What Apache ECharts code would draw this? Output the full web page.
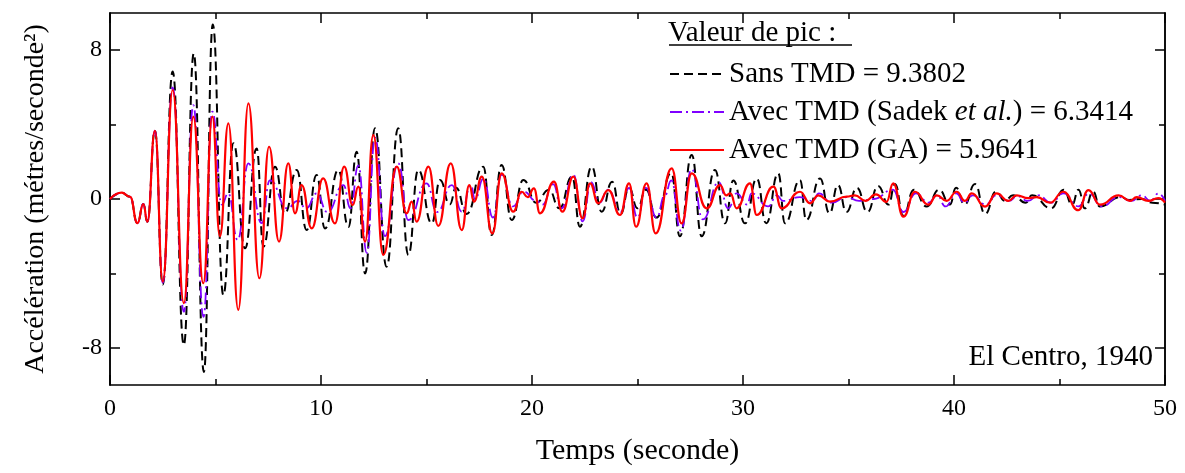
<!DOCTYPE html>
<html><head><meta charset="utf-8">
<script src="https://cdn.jsdelivr.net/npm/echarts@6/dist/echarts.min.js"></script>
<style>html,body{margin:0;padding:0;background:#fff}#c{width:1185px;height:473px}</style>
</head><body><div id="c"></div>
<script>
// Time (s) and acceleration (m/s²) at each peak / trough
const tSans = [0,0.55,0.95,1.3,1.58,1.77,2.13,2.5,2.97,3.5,3.97,4.45,4.87,5.37,5.85,6.4,6.95,7.27,7.82,8.29,8.85,9.32,9.79,10.19,10.82,11.3,11.69,12.09,12.56,13.11,13.66,14.14,14.61,15.25,15.64,16.1,16.4,16.9,17.69,18.09,18.56,19.04,19.59,20.2,20.8,21.3,21.9,22.27,22.83,23.3,23.8,24.2,24.6,25.0,25.4,25.9,26.6,27.01,27.57,28.04,28.67,29.15,29.54,30.1,30.65,31.1,31.67,31.99,32.7,33.0,33.65,34.1,34.5,34.9,35.4,35.9,36.4,36.9,37.2,37.6,38.1,38.7,39.3,39.8,40.1,40.5,41.0,41.47,42.0,42.4,42.8,43.4,43.7,44.6,45.2,45.6,45.9,46.2,46.6,46.9,47.9,48.3,48.9,49.4,50];
const vSans = [0,0.34,0.12,-1.3,-0.27,-1.22,3.67,-4.6,6.85,-7.85,7.83,-9.3,9.38,-5.16,3.0,-2.65,2.72,-2.56,1.74,-0.77,1.56,-1.67,1.29,-1.58,1.56,-1.5,2.54,-4.0,3.8,-3.64,3.8,-3.01,1.56,-1.31,1.02,-0.3,0.6,-0.8,1.74,-1.94,1.83,-1.13,1.02,-0.2,0.5,-0.5,1.2,-1.49,1.74,-0.68,0.93,-0.8,0.6,-0.5,0.5,-1.0,1.4,-2.0,2.37,-2.0,1.56,-1.31,1.0,-1.31,1.1,-1.3,1.38,-1.31,1.02,-1.13,1.1,-0.77,0.75,-0.7,0.6,-0.7,0.7,-0.3,0.8,-0.9,0.5,-0.4,0.5,-0.3,0.6,-0.3,0.8,-0.8,0.4,-0.1,0.2,-0.2,0.2,-0.5,0.5,-0.3,0.5,-0.5,0.4,-0.4,0.1,-0.05,0.0,-0.2,-0.3];

const tSadek = [0,0.55,0.95,1.3,1.58,1.77,2.13,2.5,2.97,3.5,3.95,4.43,4.85,5.3,5.6,6.05,6.56,7.19,7.58,8.4,8.9,9.3,9.8,10.3,11.06,11.4,11.77,12.17,12.56,13.03,13.66,14.14,15.0,15.5,16.2,16.67,17.1,17.3,17.7,18.15,18.56,19.1,19.6,20.2,20.5,21.0,21.4,21.96,22.4,22.8,23.2,23.6,24.2,24.6,25.0,25.4,25.9,26.3,26.6,27.05,27.57,28.1,28.85,29.3,29.7,30.2,30.4,31.2,31.6,31.9,32.7,33.3,33.6,34.2,34.9,35.5,36.2,37.1,37.6,38.2,38.8,39.2,39.6,40.1,40.5,40.9,41.5,42.0,42.6,43.0,43.5,44.0,44.6,45.2,45.9,46.4,47.0,47.8,48.4,48.9,49.3,49.7,50];
const vSadek = [0,0.34,0.12,-1.3,-0.27,-1.22,3.67,-4.5,6.0,-6.06,5.05,-6.34,4.7,-0.3,0.3,-2.2,1.92,-1.3,1.0,-0.5,-0.1,-0.5,0.3,-0.7,0.75,-0.5,1.8,-2.9,3.3,-2.0,1.92,-1.13,0.84,-0.7,0.75,-0.68,0.75,0.0,1.1,-1.0,1.3,-0.4,0.4,-0.1,-0.3,0.8,-0.5,1.3,-1.2,0.9,-0.2,0.5,-0.7,0.6,-1.0,0.6,-1.0,0.2,1.0,-1.7,1.6,-1.1,0.9,-0.5,0.3,-0.3,0.3,-0.4,0.2,-0.1,0.1,-0.1,0.3,-0.2,0.1,-0.1,0.0,0.5,-0.7,0.3,-0.2,0.2,-0.4,0.3,-0.2,0.2,-0.3,0.2,-0.1,0.15,-0.1,0.2,-0.2,0.3,-0.4,0.3,-0.4,0.1,-0.1,0.2,-0.1,0.3,-0.1];

const tGA = [0,0.55,0.95,1.3,1.58,1.77,2.13,2.5,2.97,3.5,3.95,4.42,4.85,5.21,5.61,6.08,6.56,7.08,7.54,8.01,8.45,8.77,9.08,9.56,10.1,10.66,11.1,11.5,11.77,12.09,12.48,12.95,13.59,14.06,14.3,14.53,15.09,15.56,16.15,16.67,17.03,17.25,17.62,18.12,18.56,19.11,19.51,19.8,20.09,20.38,21.04,21.44,21.96,22.4,22.75,23.14,23.62,24.17,24.6,24.93,25.43,25.86,26.62,27.09,27.57,28.28,28.91,29.2,29.4,29.7,30.33,30.65,31.44,31.83,32.7,33.18,33.57,34.12,34.91,35.3,35.8,36.3,36.8,37.12,37.6,38.15,38.78,39.18,39.65,40.13,40.52,40.84,41.47,42.02,42.57,42.97,43.52,43.92,44.55,45.18,45.89,46.37,46.92,47.8,48.34,48.66,49.21,49.68,50];
const vGA = [0,0.34,0.12,-1.3,-0.27,-1.22,3.67,-4.44,5.86,-5.6,4.43,-4.53,4.43,-2.0,4.07,-5.96,5.14,-4.26,2.81,-2.29,1.92,-0.77,0.75,-1.58,1.11,-1.31,1.74,-0.32,0.66,-2.29,3.44,-3.01,1.74,-0.77,-0.14,-1.22,1.74,-1.45,1.92,-1.67,0.75,-0.14,1.2,-1.85,1.38,-0.68,0.39,0.1,0.57,-0.77,0.93,-0.68,1.2,-1.04,0.84,-0.23,0.48,-0.86,0.84,-1.49,0.84,-1.85,1.65,-1.31,1.38,-0.5,0.75,0.2,0.3,-0.5,0.84,-0.86,0.66,-0.5,0.39,-0.23,0.2,-0.14,0.13,0.2,-0.1,0.25,-0.15,0.84,-0.95,0.39,-0.3,0.2,-0.1,0.39,-0.1,0.3,-0.41,0.3,-0.1,0.2,0.05,0.1,-0.2,0.39,-0.6,0.48,-0.3,0.2,-0.1,0.1,-0.1,0.05,-0.2];

const seriesNames = ['Sans TMD', 'Avec TMD (Sadek et al.)', 'Avec TMD (GA)'];
const peakValues = ['9.3802', '6.3414', '5.9641'];
const yLabelValues = [-8, 0, 8];
const yMinorValues = [-4, 4];
const legendTitle = 'Valeur de pic :';
const caseLabel = 'El Centro, 1940';
const xName = 'Temps (seconde)';
const yName = 'Accélération (métres/seconde²)';

const zip = (t, v) => t.map((x, i) => [x, v[i]]);
const FONT = 'Liberation Serif';

const chart = echarts.init(document.getElementById('c'), null, {renderer: 'canvas'});

const lineC = {color: '#000', width: 1.5};
function xAx(pos, labels) {
  return {
    type: 'value', position: pos, min: 0, max: 50, interval: 10,
    axisLine: {show: true, onZero: false, lineStyle: lineC},
    axisTick: {show: true, inside: true, length: 10, lineStyle: lineC},
    minorTick: {show: true, splitNumber: 2, length: 6, lineStyle: lineC},
    splitLine: {show: false},
    axisLabel: {show: labels, fontFamily: FONT, fontSize: 24, color: '#000', margin: 12},
    name: labels ? xName : '', nameLocation: 'middle', nameGap: 51,
    nameTextStyle: {fontFamily: FONT, fontSize: 30, color: '#000'}
  };
}
function yAx(pos, vals, len, labels) {
  return {
    type: 'value', position: pos, min: -10, max: 10,
    axisLine: {show: true, onZero: false, lineStyle: lineC},
    axisTick: {show: true, inside: true, length: len, customValues: vals, lineStyle: lineC},
    splitLine: {show: false},
    axisLabel: {show: labels, customValues: vals, fontFamily: FONT, fontSize: 24, color: '#000', margin: 8},
    name: labels ? yName : '', nameLocation: 'middle', nameGap: 60, nameRotate: 90,
    nameTextStyle: {fontFamily: FONT, fontSize: 28, color: '#000'}
  };
}

chart.setOption({
  animation: false,
  backgroundColor: '#fff',
  grid: {left: 110, right: 20, top: 13, bottom: 88},
  xAxis: [xAx('bottom', true), xAx('top', false)],
  yAxis: [yAx('left', yLabelValues, 10, true), yAx('left', yMinorValues, 6, false),
          yAx('right', yLabelValues, 10, false), yAx('right', yMinorValues, 6, false)],
  legend: {
    orient: 'vertical', left: 664, top: 54, itemWidth: 54, itemHeight: 14, itemGap: 8,
    data: seriesNames,
    itemStyle: {opacity: 0, color: 'rgba(0,0,0,0)', borderWidth: 0},
    textStyle: {fontFamily: FONT, fontSize: 29, color: '#000', lineHeight: 30,
      rich: {i: {fontFamily: FONT, fontSize: 29, fontStyle: 'italic', color: '#000'},
             n: {fontFamily: FONT, fontSize: 29, color: '#000'}}},
    formatter: function (name) {
      const i = seriesNames.indexOf(name);
      if (i === 1) return '{n|Avec TMD (Sadek }{i|et al.}{n|) = ' + peakValues[1] + '}';
      return name + ' = ' + peakValues[i];
    }
  },
  graphic: [
    {type: 'text', left: 668, top: 19, style: {text: legendTitle, font: '29px "Liberation Serif"', fill: '#000'}},
    {type: 'line', shape: {x1: 669, y1: 45, x2: 852, y2: 45}, style: {stroke: '#000', lineWidth: 1.5}},
    {type: 'text', right: 32, top: 343, style: {text: caseLabel, font: '29px "Liberation Serif"', fill: '#000'}}
  ],
  series: [
    {name: seriesNames[0], type: 'line', data: zip(tSans, vSans), symbol: 'none', showSymbol: false, smooth: 0.5, smoothMonotone: 'x',
     lineStyle: {color: '#000', width: 2, type: [9, 5]}, itemStyle: {color: '#000'}, z: 2},
    {name: seriesNames[1], type: 'line', data: zip(tSadek, vSadek), symbol: 'none', showSymbol: false, smooth: 0.5, smoothMonotone: 'x',
     lineStyle: {color: '#7f00ff', width: 1.8, type: [12, 4, 2, 4]}, itemStyle: {color: '#7f00ff'}, z: 3},
    {name: seriesNames[2], type: 'line', data: zip(tGA, vGA), symbol: 'none', showSymbol: false, smooth: 0.5, smoothMonotone: 'x',
     lineStyle: {color: '#ff0000', width: 2.2}, itemStyle: {color: '#ff0000'}, z: 4}
  ]
});
</script>
</body></html>
